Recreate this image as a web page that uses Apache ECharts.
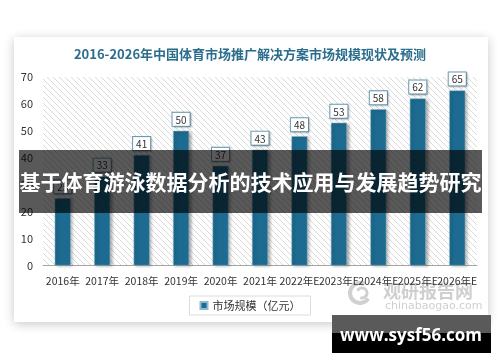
<!DOCTYPE html>
<html><head><meta charset="utf-8">
<script src="https://cdn.jsdelivr.net/npm/echarts@6/dist/echarts.min.js"></script>
<style>html,body{margin:0;padding:0;background:#fff}#c{width:500px;height:362px}</style>
</head><body><div id="c"></div>
<script>
var categories = ['2016年','2017年','2018年','2019年','2020年','2021年','2022年E','2023年E','2024年E','2025年E','2026年E'];
var marketSize = [25, 33, 41, 50, 37, 43, 48, 53, 58, 62, 65];
var yTicks = [0, 70, 10];
var titleText = '2016-2026年中国体育市场推广解决方案市场规模现状及预测';
var seriesName = '市场规模（亿元）';
var bannerText = '基于体育游泳数据分析的技术应用与发展趋势研究';

var pc = document.createElement('canvas');
pc.width = 6; pc.height = 6;
var ctx = pc.getContext('2d');
ctx.fillStyle = '#ffffff'; ctx.fillRect(0,0,6,6);
ctx.strokeStyle = '#dadada'; ctx.lineWidth = 1;
ctx.beginPath();
ctx.moveTo(0,0); ctx.lineTo(6,6);
ctx.moveTo(-3,3); ctx.lineTo(3,9);
ctx.moveTo(3,-3); ctx.lineTo(9,3);
ctx.stroke();

var F = '"Noto Sans CJK SC", "Noto Sans", sans-serif';
var chart = echarts.init(document.getElementById('c'));
chart.setOption({
  animation: false,
  backgroundColor: '#ffffff',
  textStyle: {fontFamily: F},
  title: {text: titleText, left: 'center', top: 43,
    textStyle: {fontSize: 13, fontWeight: 'bold', color: '#2b6d8d', fontFamily: F}},
  grid: {left: 43, right: 23, top: 77, bottom: 96.5, show: true,
    backgroundColor: {image: pc, repeat: 'repeat'}, borderWidth: 0},
  legend: {bottom: 47, left: 'center', itemWidth: 7, itemHeight: 7, icon: 'rect',
    borderColor: '#dcdcdc', borderWidth: 1, padding: [4, 10, 4, 10],
    textStyle: {fontSize: 11, color: '#333', fontFamily: F}, data: [seriesName]},
  xAxis: {type: 'category', data: categories,
    axisLine: {lineStyle: {color: '#a6a6a6'}}, axisTick: {show: false},
    axisLabel: {interval: 0, fontSize: 10.5, color: '#333', margin: 10, fontFamily: F}},
  yAxis: {type: 'value', min: yTicks[0], max: yTicks[1], interval: yTicks[2],
    axisLine: {show: false}, axisTick: {show: false}, splitLine: {show: false},
    axisLabel: {fontSize: 11, color: '#333', margin: 10}},
  series: [{type: 'bar', name: seriesName, data: marketSize, barWidth: 16,
    itemStyle: {color: '#1d6b90', borderColor: '#8fb8cc', borderWidth: 0.5,
      shadowColor: 'rgba(0,0,0,0.35)', shadowBlur: 3, shadowOffsetX: 2, shadowOffsetY: 1},
    label: {show: true, position: 'top', distance: 5, fontSize: 10, color: '#333',
      backgroundColor: '#fff', borderColor: '#6a9db6', borderWidth: 1, padding: [2, 3, 1, 3],
      shadowColor: 'rgba(0,0,0,0.2)', shadowBlur: 2, shadowOffsetX: 1, shadowOffsetY: 1}}],
  graphic: [
    {type: 'rect', z: -10, shape: {x: 14, y: 37, width: 474, height: 285},
      style: {fill: '#fff', shadowColor: 'rgba(0,0,0,0.22)', shadowBlur: 10, shadowOffsetX: 0, shadowOffsetY: 2}},
    {type: 'group', z: 50, children: [
      {type: 'arc', shape: {cx: 360, cy: 293, r: 10, startAngle: 0.6, endAngle: 5.2}, style: {stroke: '#d0d0d0', lineWidth: 4, fill: null}},
      {type: 'arc', shape: {cx: 362, cy: 293, r: 5, startAngle: 3.6, endAngle: 8.2}, style: {stroke: '#d0d0d0', lineWidth: 3, fill: null}},
      {type: 'text', style: {x: 383, y: 291, text: '观研报告网', font: 'bold 18px ' + F, fill: '#cfcfcf', textVerticalAlign: 'middle'}},
      {type: 'text', style: {x: 385, y: 306, text: 'chinabaogao.com', font: '11px "DejaVu Sans", sans-serif', fill: '#cfcfcf', textVerticalAlign: 'middle'}}
    ]},
    {type: 'rect', z: 100, shape: {x: 19, y: 150, width: 463, height: 63}, style: {fill: 'rgba(0,0,0,0.65)'}},
    {type: 'text', z: 101, style: {x: 250.5, y: 182, text: bannerText, font: 'bold 21px ' + F, fill: '#fff', textAlign: 'center', textVerticalAlign: 'middle'}},
    {type: 'rect', z: 100, shape: {x: 332, y: 315, width: 159, height: 18}, style: {fill: '#5a5a5a'}},
    {type: 'rect', z: 100, shape: {x: 332, y: 333, width: 159, height: 20}, style: {fill: '#000'}},
    {type: 'text', z: 101, style: {x: 411, y: 336, text: 'www.sysf56.com', font: 'bold 17px "Open Sans", "DejaVu Sans", sans-serif', fill: '#fff', textAlign: 'center', textVerticalAlign: 'middle'}}
  ]
});
</script></body></html>
